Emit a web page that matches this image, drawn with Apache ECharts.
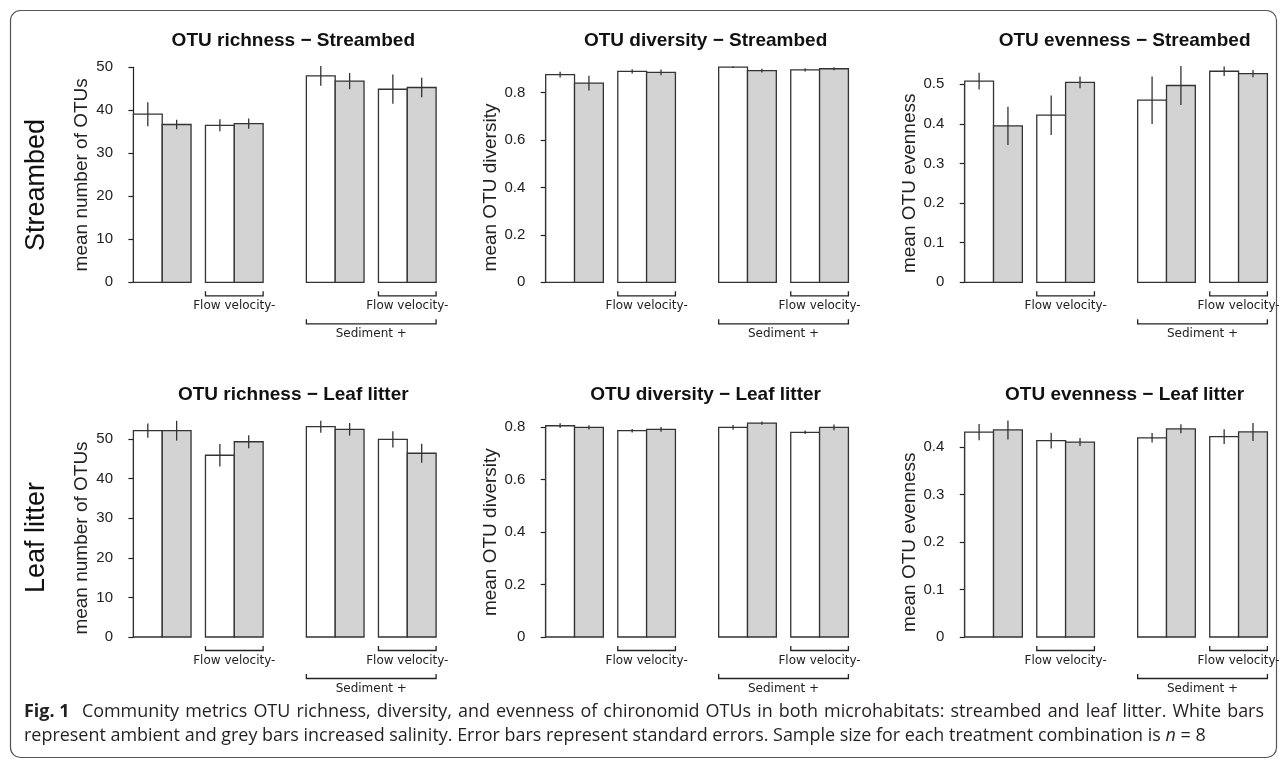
<!DOCTYPE html>
<html><head><meta charset="utf-8">
<script src="https://cdn.jsdelivr.net/npm/echarts@6/dist/echarts.min.js"></script>
<style>html,body{margin:0;padding:0;background:#fff}#chart{width:1285px;height:763px}</style>
</head><body><div id="chart"></div><script>
// ---------- data ----------
const treatments = ['Control', 'Flow velocity-', 'Sediment +', 'Sediment + / Flow velocity-'];
const rowLabels = ['Streambed', 'Leaf litter'];
const panelTitles = [
  'OTU richness \u2212 Streambed', 'OTU diversity \u2212 Streambed', 'OTU evenness \u2212 Streambed',
  'OTU richness \u2212 Leaf litter', 'OTU diversity \u2212 Leaf litter', 'OTU evenness \u2212 Leaf litter'
];
const yNames = ['mean number of OTUs', 'mean OTU diversity', 'mean OTU evenness',
                'mean number of OTUs', 'mean OTU diversity', 'mean OTU evenness'];
const yMax  = [50, 0.8, 0.5, 50, 0.8, 0.4];
const yStep = [10, 0.2, 0.1, 10, 0.2, 0.1];
const bracketLabels = ['Flow velocity-', 'Sediment +'];
// [first pair, last pair, level]
const brackets = [[1, 1, 0], [3, 3, 0], [2, 3, 1]];

// Streambed
const streamRichAmbient   = [39.1, 36.5, 48.0, 44.9];
const streamRichAmbientSE = [2.8, 1.4, 2.3, 3.4];
const streamRichSaline    = [36.7, 36.9, 46.8, 45.3];
const streamRichSalineSE  = [1.1, 1.2, 1.9, 2.25];

const streamDivAmbient    = [0.876, 0.890, 0.908, 0.896];
const streamDivAmbientSE  = [0.012, 0.009, 0.004, 0.007];
const streamDivSaline     = [0.840, 0.886, 0.893, 0.901];
const streamDivSalineSE   = [0.031, 0.012, 0.008, 0.006];

const streamEvenAmbient   = [0.508, 0.422, 0.460, 0.533];
const streamEvenAmbientSE = [0.021, 0.050, 0.060, 0.012];
const streamEvenSaline    = [0.395, 0.505, 0.497, 0.527];
const streamEvenSalineSE  = [0.048, 0.015, 0.049, 0.009];

// Leaf litter
const leafRichAmbient     = [52.1, 45.9, 53.1, 49.9];
const leafRichAmbientSE   = [1.8, 2.85, 1.5, 2.05];
const leafRichSaline      = [52.1, 49.3, 52.45, 46.4];
const leafRichSalineSE    = [2.5, 1.65, 1.6, 2.4];

const leafDivAmbient      = [0.806, 0.787, 0.800, 0.781];
const leafDivAmbientSE    = [0.009, 0.0065, 0.009, 0.007];
const leafDivSaline       = [0.800, 0.792, 0.816, 0.800];
const leafDivSalineSE     = [0.008, 0.009, 0.006, 0.011];

const leafEvenAmbient     = [0.432, 0.414, 0.420, 0.4226];
const leafEvenAmbientSE   = [0.017, 0.0165, 0.010, 0.0155];
const leafEvenSaline      = [0.4367, 0.411, 0.439, 0.4325];
const leafEvenSalineSE    = [0.020, 0.0085, 0.0095, 0.019];

const captionLabel = 'Fig. 1';
const captionLine1 = 'Community metrics OTU richness, diversity, and evenness of chironomid OTUs in both microhabitats: streambed and leaf litter. White bars';
const captionLine2 = 'represent ambient and grey bars increased salinity. Error bars represent standard errors. Sample size for each treatment combination is ';

// ---------- assemble ----------
const means = [
  [streamRichAmbient, streamRichSaline], [streamDivAmbient, streamDivSaline], [streamEvenAmbient, streamEvenSaline],
  [leafRichAmbient, leafRichSaline], [leafDivAmbient, leafDivSaline], [leafEvenAmbient, leafEvenSaline]
];
const ses = [
  [streamRichAmbientSE, streamRichSalineSE], [streamDivAmbientSE, streamDivSalineSE], [streamEvenAmbientSE, streamEvenSalineSE],
  [leafRichAmbientSE, leafRichSalineSE], [leafDivAmbientSE, leafDivSalineSE], [leafEvenAmbientSE, leafEvenSalineSE]
];

// ---------- layout ----------
const colLeft = [121, 533.3, 952.3];
const rowBase = [282.3, 637];
const gridTop = [67.3, 92.7, 84.3, 439, 427.3, 447.3];
const gridW = 327.5;
const xMin = -0.43, xMax = 10.93;
const fillColors = ['#ffffff', '#d2d3d2'];
const ink = '#222';
const sans = '"Liberation Sans", Arial, sans-serif';
const capFamily = '"Open Sans", sans-serif';
const capColor = '#231f20';
const bracketGap = [13.5, 41.5];

function pairStart(p) { return p * 2.5 + (p >= 2 ? 1 : 0); }

function barRenderer(s) {
  return function (params, api) {
    const i = api.value(0), m = api.value(1), e = api.value(2);
    const x0 = pairStart(i) + s;
    const a = api.coord([x0, 0]), b = api.coord([x0 + 1, m]);
    const lo = api.coord([x0 + 0.5, m - e]), hi = api.coord([x0 + 0.5, m + e]);
    return { type: 'group', children: [
      { type: 'rect', shape: { x: a[0], y: b[1], width: b[0] - a[0], height: a[1] - b[1] },
        style: { fill: fillColors[s], stroke: '#333', lineWidth: 1.3 } },
      { type: 'line', shape: { x1: lo[0], y1: lo[1], x2: hi[0], y2: hi[1] },
        style: { stroke: '#333', lineWidth: 1.3 } }
    ]};
  };
}

function bracketRenderer(params, api) {
  const a = api.value(0), b = api.value(1), lvl = api.value(2);
  const pa = api.coord([pairStart(a), 0]), pb = api.coord([pairStart(b) + 2, 0]);
  const y = pa[1] + bracketGap[lvl];
  return { type: 'group', children: [
    { type: 'polyline', shape: { points: [[pa[0], y - 4.5], [pa[0], y], [pb[0], y], [pb[0], y - 4.5]] },
      style: { stroke: ink, lineWidth: 1.3, fill: 'none' } },
    { type: 'text', style: { text: bracketLabels[lvl], x: (pa[0] + pb[0]) / 2, y: y + 10,
      align: 'center', verticalAlign: 'middle', fontFamily: '"DejaVu Sans", Verdana, sans-serif', fontSize: 12, fill: ink } }
  ]};
}

const grids = [], xAxes = [], yAxes = [], series = [], graphics = [];
for (let k = 0; k < 6; k++) {
  const row = Math.floor(k / 3), col = k % 3;
  grids.push({ left: colLeft[col], top: gridTop[k], width: gridW, height: rowBase[row] - gridTop[k],
               containLabel: false, outerBoundsMode: 'none' });
  xAxes.push({ type: 'value', gridIndex: k, min: xMin, max: xMax, show: false });
  yAxes.push({
    type: 'value', gridIndex: k, min: 0, max: yMax[k], interval: yStep[k],
    name: yNames[k], nameLocation: 'middle', nameGap: 30, nameRotate: 90,
    nameTextStyle: { fontSize: 19, fontFamily: sans, color: ink },
    axisLine: { show: true, lineStyle: { color: ink, width: 1.2 } },
    axisTick: { show: true, length: 5, lineStyle: { color: ink, width: 1.2 } },
    axisLabel: { fontSize: 15, fontFamily: sans, color: ink, margin: 8 },
    splitLine: { show: false }
  });
  for (let s = 0; s < 2; s++) {
    series.push({
      type: 'custom', name: s === 0 ? 'ambient' : 'increased salinity',
      xAxisIndex: k, yAxisIndex: k, clip: false, silent: true,
      data: means[k][s].map((m, i) => [i, m, ses[k][s][i]]),
      renderItem: barRenderer(s)
    });
  }
  series.push({ type: 'custom', xAxisIndex: k, yAxisIndex: k, clip: false, silent: true,
                data: brackets, renderItem: bracketRenderer });
  graphics.push({ type: 'text', x: colLeft[col] + 172.3, y: row === 0 ? 40.7 : 394.3,
    style: { text: panelTitles[k], align: 'center', verticalAlign: 'middle',
             fontFamily: sans, fontWeight: 'bold', fontSize: 19, fill: '#111' } });
}
rowLabels.forEach((t, r) => {
  graphics.push({ type: 'text', x: 37, y: r === 0 ? 185 : 537.5, rotation: Math.PI / 2,
    style: { text: t, align: 'center', verticalAlign: 'middle', fontFamily: sans, fontSize: 27, fill: '#111' } });
});
graphics.push({ type: 'rect', shape: { x: 10.5, y: 10.5, width: 1266, height: 747, r: 10 },
  style: { fill: 'none', stroke: '#555', lineWidth: 1.2 } });

// ---------- caption: size from natural width of last line, first line justified ----------
const ctx = document.createElement('canvas').getContext('2d');
function tw(text, size, bold) { ctx.font = (bold ? 'bold ' : '') + size + 'px ' + capFamily; return ctx.measureText(text).width; }
const capX = 24, line1W = 1240, line2W = 1183;
const capSize = Math.max(14, Math.min(19.5, 16 * line2W / (tw(captionLine2 + 'n = 8', 16, false))));
const tokens = [{ t: captionLabel, b: true }].concat(captionLine1.split(' ').map(t => ({ t: t, b: false })));
const widths = tokens.map(o => tw(o.t, capSize, o.b));
const extraAfterLabel = capSize * 0.35;
const gap = (line1W - widths.reduce((a, b) => a + b, 0) - extraAfterLabel) / (tokens.length - 1);
let cx = capX;
tokens.forEach((o, i) => {
  graphics.push({ type: 'text', x: cx, y: 712,
    style: { text: o.t, verticalAlign: 'middle', fontFamily: capFamily, fontSize: capSize,
             fontWeight: o.b ? 'bold' : 'normal', fill: capColor } });
  cx += widths[i] + gap + (i === 0 ? extraAfterLabel : 0);
});
graphics.push({ type: 'text', x: capX, y: 736,
  style: { text: captionLine2 + '{i|n} = 8', verticalAlign: 'middle', fontFamily: capFamily, fontSize: capSize, fill: capColor,
           rich: { i: { fontFamily: capFamily, fontStyle: 'italic', fontSize: capSize, fill: capColor } } } });

const chart = echarts.init(document.getElementById('chart'), null, { renderer: 'canvas' });
chart.setOption({
  backgroundColor: '#ffffff',
  animation: false,
  grid: grids, xAxis: xAxes, yAxis: yAxes, series: series, graphic: graphics
});
</script></body></html>
